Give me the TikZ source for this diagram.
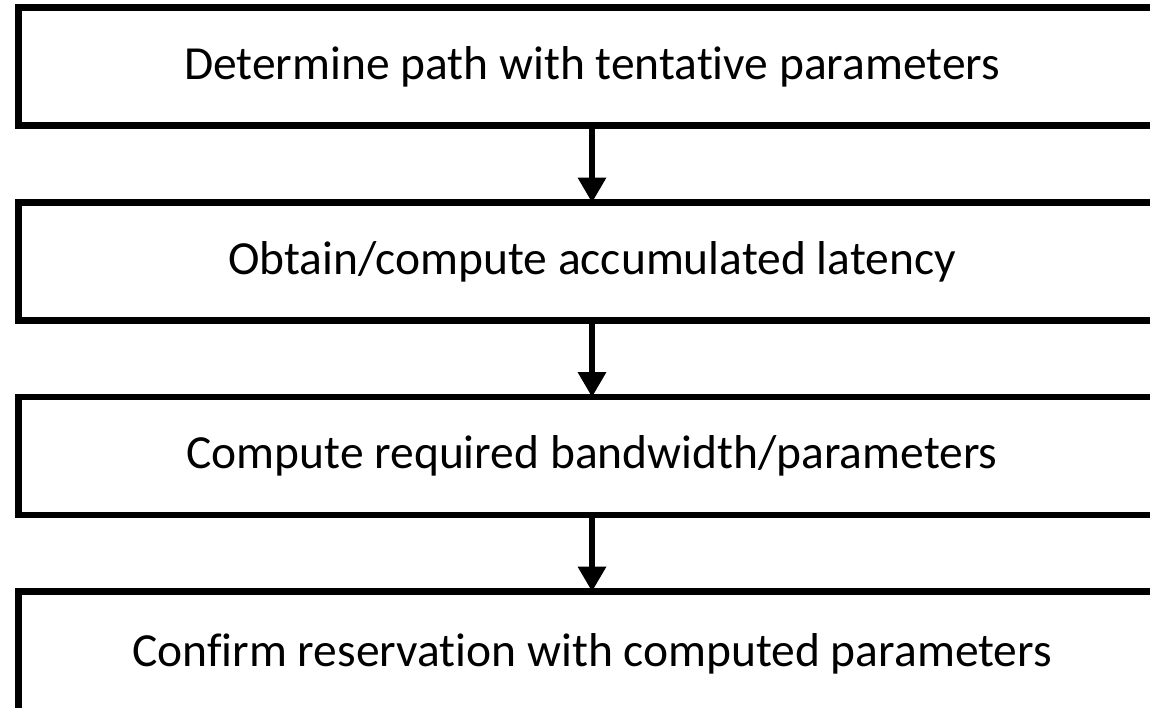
\documentclass[tikz,border=0pt]{standalone}
\usepackage{fontspec}
\setmainfont{Carlito}[Ligatures=NoCommon]
\usetikzlibrary{arrows.meta}
\begin{document}
\begin{tikzpicture}[x=1pt,y=1pt,
  stepbox/.style={draw=black, line width=6.2pt, fill=white, minimum width=1147pt, minimum height=118pt, inner sep=0pt, outer sep=0pt, font=\fontsize{47.5}{57}\selectfont},
  flowarrow/.style={line width=5.2pt, -{Triangle[width=27.5pt,length=25pt]}}]
\useasboundingbox (0,0) rectangle (1150,-707);
\clip (0,0) rectangle (1150,-707);
\node[stepbox] (b1) at (592,-66.5) {Determine path with tentative parameters};
\node[stepbox] (b2) at (592,-261.5) {Obtain/compute accumulated latency};
\node[stepbox] (b3) at (592,-456) {Compute required bandwidth/parameters};
\node[stepbox, minimum height=124pt] (b4) at (592,-653.5) {Confirm reservation with computed parameters};
\draw[flowarrow] (b1.south) -- (b2.north);
\draw[flowarrow] (b2.south) -- (b3.north);
\draw[flowarrow] (b3.south) -- (b4.north);
\end{tikzpicture}
\end{document}
